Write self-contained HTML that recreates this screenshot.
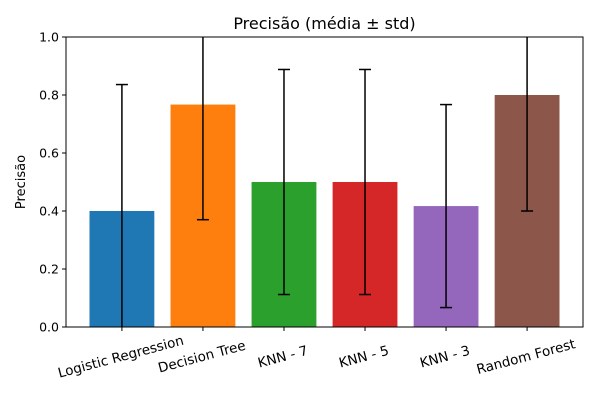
<!DOCTYPE html>
<html><head><meta charset="utf-8"><style>
body{margin:0;background:#fff}
svg{font-family:"DejaVu Sans","Liberation Sans",sans-serif}
</style></head><body>
<svg id="chart" width="600" height="400" viewBox="0 0 600 400" xmlns="http://www.w3.org/2000/svg">
<rect width="600" height="400" fill="#fff"/>
<text x="324.5" y="29" text-anchor="middle" font-size="16">Precisão (média ± std)</text>
<text transform="translate(25,182) rotate(-90)" text-anchor="middle" font-size="13">Precisão</text>
<g id="marks"></g>
<rect x="66" y="37" width="517" height="290" fill="none" stroke="#000" stroke-width="1"/>
</svg>
<script>
const categories = ["Logistic Regression","Decision Tree","KNN - 7","KNN - 5","KNN - 3","Random Forest"];
const means = [0.40, 0.767, 0.50, 0.50, 0.417, 0.80];
const stds = [0.436, 0.397, 0.388, 0.388, 0.35, 0.40];
const colors = ["#1f77b4","#ff7f0e","#2ca02c","#d62728","#9467bd","#8c564b"];
const yTicks = [0.0,0.2,0.4,0.6,0.8,1.0];
const yTickLabels = ["0.0","0.2","0.4","0.6","0.8","1.0"];

const L=66,R=583,T=37,B=327;
const x0=-0.69,x1=5.69;
const xs=v=>L+(v-x0)/(x1-x0)*(R-L);
const ys=v=>B-(v-0)/(1-0)*(B-T);
const NS="http://www.w3.org/2000/svg";
const g=document.getElementById('marks');
function mk(tag,attrs){const e=document.createElementNS(NS,tag);for(const k in attrs)e.setAttribute(k,attrs[k]);g.appendChild(e);return e;}
const clamp=v=>Math.max(T,Math.min(B,v));
categories.forEach((c,i)=>{
  const cx=xs(i),w=xs(0.4)-xs(-0.4);
  const b=mk('rect',{x:cx-w/2,y:ys(means[i]),width:w,height:B-ys(means[i]),fill:colors[i]});
  
  
  const hi=ys(means[i]+stds[i]),lo=ys(means[i]-stds[i]);
  const ln=mk('line',{x1:cx,x2:cx,y1:clamp(hi),y2:clamp(lo),stroke:'#000','stroke-width':1.5});
  
  
  [hi,lo].forEach(y=>{if(y>=T-0.5&&y<=B+0.5){const cp=mk('line',{x1:cx-6,x2:cx+6,y1:y,y2:y,stroke:'#000','stroke-width':1.5});
    
    }});
  const tk=mk('line',{x1:cx,x2:cx,y1:B,y2:B+4,stroke:'#000'});
  
  
  const t=mk('text',{transform:`translate(${cx},${B+34}) rotate(-15)`,'text-anchor':'middle','font-size':13.5});
  t.textContent=c;
  
  
});
yTicks.forEach((v,i)=>{
  const y=ys(v);
  const tk=mk('line',{x1:L-4,x2:L,y1:y,y2:y,stroke:'#000'});
  
  
  const t=mk('text',{x:L-7,y:y+4.5,'text-anchor':'end','font-size':12.5});
  t.textContent=yTickLabels[i];
  
  
});
</script>
</body></html>
